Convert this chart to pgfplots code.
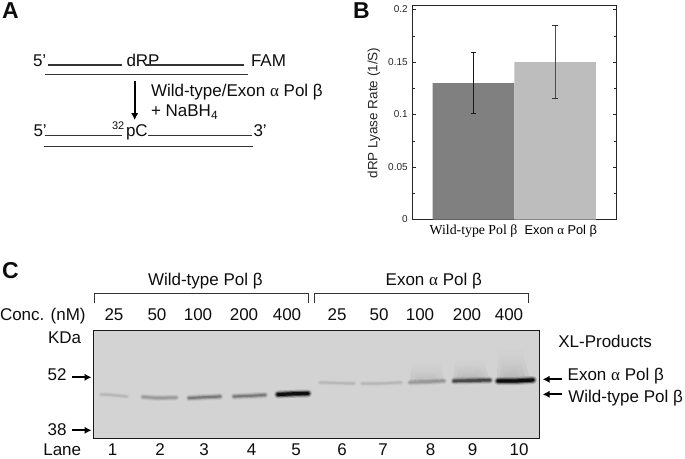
\documentclass[border=0pt]{standalone}
\usepackage{fontspec}
\usepackage{pgfplots}
\pgfplotsset{compat=1.18}
\usetikzlibrary{arrows.meta}
\setmainfont{Liberation Sans}
\newfontfamily\serif{Liberation Serif}
\newcommand{\al}{{\serif α}}
\newcommand{\fs}[1]{\fontsize{#1}{#1}\selectfont}

% gel colours and band layers: wide halo, body, dark core
\definecolor{gel}{HTML}{D3D3D3}
\tikzset{
  band/.style={draw=black,line cap=round,line join=round},
  faint one/.style={band,opacity=.03,line width=5pt},
  faint two/.style={band,opacity=.05,line width=3pt},
  faint three/.style={band,opacity=.05,line width=1.5pt},
  light one/.style={band,opacity=.06,line width=6pt},
  light two/.style={band,opacity=.1,line width=4pt},
  light three/.style={band,opacity=.12,line width=2pt},
  medium one/.style={band,opacity=.08,line width=6.5pt},
  medium two/.style={band,opacity=.15,line width=4.2pt},
  medium three/.style={band,opacity=.25,line width=2.2pt},
  dark one/.style={band,opacity=.12,line width=7pt},
  dark two/.style={band,opacity=.25,line width=4.6pt},
  dark three/.style={band,opacity=.45,line width=2.6pt},
  heavy one/.style={band,opacity=.18,line width=8pt},
  heavy two/.style={band,opacity=.45,line width=5.4pt},
  heavy three/.style={band,opacity=.85,line width=3.2pt},
  smear/.style={draw=none,opacity=.22,top color=gel,bottom color=black!40},
  fat arrow/.style={-{Latex[length=7pt,width=7.5pt]},line width=2pt},
  dna/.style={line width=1.1pt,draw=black!80},
}
\newcommand{\band}[2]{%
  \addplot[#1 one] coordinates {#2};
  \addplot[#1 two] coordinates {#2};
  \addplot[#1 three] coordinates {#2};
}

\begin{document}
\begin{tikzpicture}
\useasboundingbox (0pt,-458pt) rectangle (685pt,0pt);

% panel B, bars
\begin{axis}[
    at={(412.7pt,-219.5pt)}, anchor=south west,
    scale only axis, width=203.3pt, height=214.5pt,
    xmin=0.255, xmax=2.747,
    ymin=0, ymax=0.2043,
    axis line style={line width=1pt,black!85},
    xtick={1,2.07},
    xticklabels={{\fs{13.8}\serif Wild-type Pol β},{\fs{12.8}Exon \al{} Pol β}},
    xticklabel style={anchor=base,yshift=-15pt},
    x tick style={draw=none},
    ytick={0,0.05,0.1,0.15,0.2},
    yticklabels={0,0.05,0.1,0.15,0.2},
    yticklabel style={font=\fs{10},text=black!85,xshift=-1.5pt},
    minor y tick num=1,
    tick align=inside,
    ytick pos=both,
    yticklabel pos=left,
    major tick length=3pt, minor tick length=2pt,
    tick style={black!85,line width=.5pt},
    clip=false,
]
\addplot[draw=none,fill=black!50] coordinates {(0.5,0)(0.5,0.13)(1.5,0.13)(1.5,0)} \closedcycle;
\addplot[draw=none,fill=black!26] coordinates {(1.5,0)(1.5,0.15)(2.5,0.15)(2.5,0)} \closedcycle;
% error bars: stem, then the two caps
\addplot[black!90,line width=.7pt] coordinates {(1,0.101)(1,0.159)};
\addplot[black!90,line width=.7pt] coordinates {(0.965,0.159)(1.035,0.159)};
\addplot[black!90,line width=.7pt] coordinates {(0.965,0.101)(1.035,0.101)};
\addplot[black!70,line width=.8pt] coordinates {(2,0.115)(2,0.185)};
\addplot[black!80,line width=.7pt] coordinates {(1.965,0.185)(2.035,0.185)};
\addplot[black!80,line width=.7pt] coordinates {(1.965,0.115)(2.035,0.115)};
\end{axis}

% panel C, gel in picture pixels
\begin{axis}[
    at={(93.7pt,-438.3pt)}, anchor=south west,
    scale only axis, width=445.6pt, height=107.6pt,
    xmin=93.7, xmax=539.3,
    ymin=330.7, ymax=438.3, y dir=reverse,
    ticks=none,
    axis background/.style={fill=gel},
    axis line style={line width=1pt,black!90},
    axis on top,
]
% smears above the strong lanes, nested so the edges stay soft
\addplot[smear] coordinates {(412,362)(440,362)(444,381)(410,381)};
\addplot[smear] coordinates {(418,370)(434,370)(438,381)(414,381)};
\addplot[smear] coordinates {(456,358)(482,358)(490,380)(453,380)};
\addplot[smear] coordinates {(460,364)(478,364)(486,380)(456,380)};
\addplot[smear] coordinates {(464,370)(474,370)(480,380)(460,380)};
\addplot[smear] coordinates {(499,348)(522,348)(530,380)(497,380)};
\addplot[smear] coordinates {(503,356)(519,356)(526,380)(500,380)};
\addplot[smear] coordinates {(507,364)(515,364)(520,380)(503,380)};
\band{faint}{(101,394.5)(112,395)(127,396.5)}
\band{light}{(143,397)(158,398)(176,397.5)}
\band{medium}{(189,398)(205,397.2)(220,396.5)}
\band{medium}{(234,396.5)(250,395.8)(265,395)}
\band{heavy}{(278,394.5)(293,393.8)(308,393.5)}
\band{faint}{(320,382.5)(335,383)(354,383.5)}
\band{faint}{(362,383.5)(380,383.5)(401,382.5)}
\band{light}{(410,382.5)(428,382)(444,381)}
\band{dark}{(454,381)(472,380.7)(490,380.2)}
\band{heavy}{(498,381)(516,381)(533,380)}
\end{axis}

\begin{scope}[x=1pt,y=-1pt,every node/.style={inner sep=0pt,outer sep=0pt,text=black!95}]
% panel letters
\node[anchor=base west,font=\fs{23}\bfseries] at (2,18) {A};
\node[anchor=base west,font=\fs{23}\bfseries] at (353,18) {B};
\node[anchor=base west,font=\fs{23}\bfseries] at (2,278) {C};

% panel B, y title
\node[rotate=90,font=\fs{13.5},text=black!85] at (374,113) {dRP Lyase Rate (1/S)};

% panel A, the duplexes
\begin{scope}[every node/.append style={anchor=base west,font=\fs{17}}]
\node at (33,66.7) {5'};
\node at (126.5,66.7) {dRP};
\node at (251,66.7) {FAM};
\node at (151,96) {Wild-type/Exon \al{} Pol β};
\node at (151,116.7) {+ NaBH\textsubscript{4}};
\node at (33.5,136.7) {5'};
\node at (126,136.7) {pC};
\node at (253.5,136.7) {3'};
\node[font=\fs{11}] at (112,129.3) {32};
\end{scope}
\draw[dna] (48,65)--(122,65) (145,65)--(244,65) (44.7,74.3)--(248,74.3);
\draw[dna] (45,135.7)--(122,135.7) (148,135.7)--(252,135.7) (44,146.5)--(252.5,146.5);
\draw[fat arrow] (134.7,81)--(134.7,120);

% panel C, brackets
\draw[line width=.9pt,black!80] (94.7,303.3)--(94.7,293.7)--(308,293.7)--(308,303.3);
\draw[line width=.9pt,black!80] (314.7,303.3)--(314.7,293.7)--(528,293.7)--(528,303.3);

% panel C, labels
\begin{scope}[every node/.append style={anchor=base west,font=\fs{17}}]
\node at (148,285.7) {Wild-type Pol β};
\node at (385.7,285.7) {Exon \al{} Pol β};
\node at (0,320) {Conc. (nM)};
\node at (48,343.3) {KDa};
\node at (47.7,380) {52};
\node at (47.7,435) {38};
\node at (43.3,455.5) {Lane};
\node at (558.3,347.7) {XL-Products};
\node at (567.7,380) {Exon \al{} Pol β};
\node at (568.3,402.3) {Wild-type Pol β};
\end{scope}
\begin{scope}[every node/.append style={anchor=base,font=\fs{17}}]
\node at (114,320) {25};
\node at (157,320) {50};
\node at (198,320) {100};
\node at (244,320) {200};
\node at (287,320) {400};
\node at (337,320) {25};
\node at (379,320) {50};
\node at (420,320) {100};
\node at (467,320) {200};
\node at (509,320) {400};
\node at (112.7,455.5) {1};
\node at (160,455.5) {2};
\node at (204,455.5) {3};
\node at (251.7,455.5) {4};
\node at (296,455.5) {5};
\node at (342,455.5) {6};
\node at (383,455.5) {7};
\node at (430.7,455.5) {8};
\node at (472.7,455.5) {9};
\node at (519,455.5) {10};
\end{scope}
\draw[fat arrow] (72,377.3)--(91.5,377.3);
\draw[fat arrow] (72,430.3)--(91.5,430.3);
\draw[fat arrow] (561.7,379.3)--(542.7,379.3);
\draw[fat arrow] (561.7,394.3)--(542.7,394.3);
\end{scope}
\end{tikzpicture}
\end{document}
